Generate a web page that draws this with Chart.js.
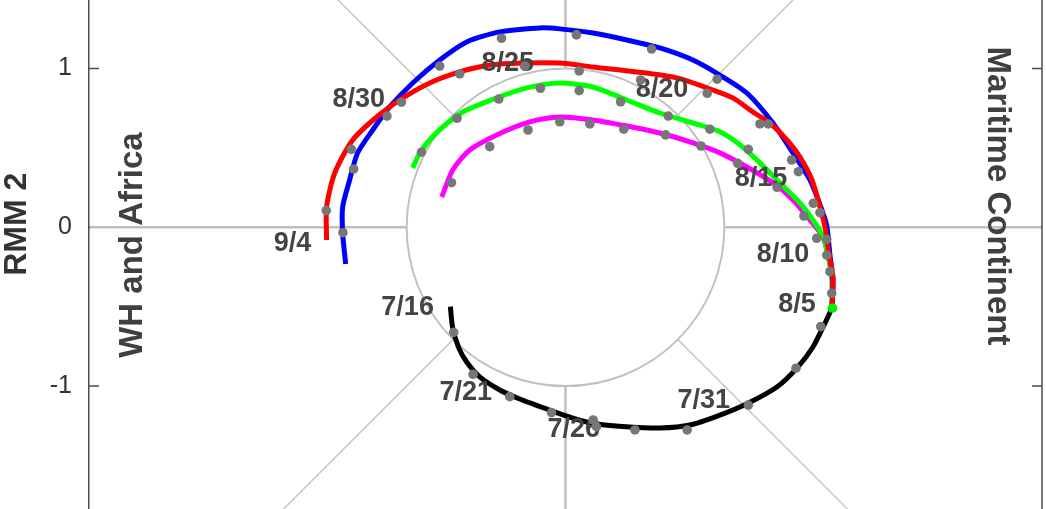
<!DOCTYPE html>
<html>
<head>
<meta charset="utf-8">
<title>RMM phase diagram</title>
<script src="https://cdn.jsdelivr.net/npm/chart.js@4.4.0/dist/chart.umd.min.js"></script>
<style>
  html, body { margin: 0; padding: 0; background: #fff; overflow: hidden; }
  #wrap { width: 1046px; height: 509px; }
</style>
</head>
<body>
<div id="wrap"><canvas id="mjo" width="1046" height="509"></canvas></div>
<script>
// ---- data: [RMM1, RMM2] pairs ----
const xMin = -3, xMax = 3;
const yMin = -1.775, yMax = 1.432;
const yTicks = [-1, 0, 1];

// observed 7/16 -> 8/5
const obsPath = [[-0.725,-0.500],[-0.710,-0.635],[-0.672,-0.760],[-0.622,-0.849],[-0.540,-0.943],[-0.414,-1.025],
  [-0.288,-1.082],[-0.118,-1.145],[0.046,-1.202],[0.197,-1.240],[0.405,-1.259],[0.594,-1.265],[0.783,-1.246],
  [0.972,-1.183],[1.149,-1.108],[1.331,-1.006],[1.457,-0.887],[1.558,-0.754],[1.634,-0.603],[1.678,-0.508]];
const obsDots = [[-0.704,-0.662],[-0.582,-0.926],[-0.351,-1.067],[-0.088,-1.168],[0.174,-1.214],[0.195,-1.256],
  [0.437,-1.277],[0.766,-1.277],[1.151,-1.120],[1.451,-0.888],[1.607,-0.626]];
const startDot = [[1.680,-0.510]];

// four tracks from 8/5 on
const redPath = [[1.678,-0.509],[1.684,-0.313],[1.659,-0.174],[1.634,0.002],[1.602,0.128],[1.552,0.298],[1.476,0.443],
  [1.394,0.550],[1.287,0.657],[1.180,0.726],[1.054,0.815],[0.928,0.865],[0.701,0.941],[0.449,0.979],[0.172,1.010],
  [-0.036,1.035],[-0.269,1.035],[-0.477,1.022],[-0.666,0.979],[-0.855,0.909],[-1.044,0.802],[-1.189,0.695],
  [-1.340,0.550],[-1.453,0.342],[-1.504,0.128],[-1.504,-0.080]];
const redDots = [[1.676,-0.416],[1.602,0.092],[1.466,0.350],[1.224,0.651],[0.892,0.844],[0.473,0.928],[0.086,0.985],
  [-0.256,1.016],[-0.666,0.966],[-1.033,0.788],[-1.348,0.491],[-1.506,0.105]];

const bluePath = [[1.678,-0.509],[1.684,-0.332],[1.665,-0.175],[1.646,0.002],[1.621,0.090],[1.539,0.298],[1.432,0.468],
  [1.306,0.657],[1.142,0.846],[0.972,0.959],[0.802,1.054],[0.594,1.130],[0.386,1.180],[0.172,1.224],[-0.036,1.250],
  [-0.162,1.256],[-0.414,1.231],[-0.622,1.168],[-0.792,1.054],[-0.962,0.909],[-1.107,0.758],[-1.214,0.613],
  [-1.309,0.468],[-1.359,0.298],[-1.403,0.128],[-1.403,-0.036],[-1.384,-0.231]];
const blueDots = [[1.665,-0.280],[1.645,-0.076],[1.560,0.151],[1.424,0.424],[1.277,0.651],[0.955,0.933],[0.542,1.123],
  [0.069,1.212],[-0.403,1.191],[-0.792,1.016],[-1.124,0.701],[-1.334,0.367],[-1.401,-0.034]];

const greenPath = [[1.678,-0.509],[1.678,-0.332],[1.653,-0.175],[1.621,-0.061],[1.558,0.046],[1.476,0.154],[1.350,0.280],
  [1.224,0.406],[1.098,0.520],[0.972,0.602],[0.802,0.657],[0.594,0.720],[0.386,0.802],[0.172,0.884],[-0.036,0.909],
  [-0.244,0.878],[-0.433,0.815],[-0.647,0.726],[-0.773,0.632],[-0.855,0.550],[-0.918,0.468],[-0.962,0.374]];
const greenDots = [[1.645,-0.175],[1.332,0.252],[1.151,0.491],[0.909,0.618],[0.647,0.701],[0.347,0.791],[0.086,0.861],
  [-0.158,0.876],[-0.420,0.808],[-0.683,0.687],[-0.907,0.473]];

const magentaPath = [[1.678,-0.509],[1.678,-0.332],[1.653,-0.175],[1.621,-0.061],[1.539,0.046],[1.432,0.172],[1.306,0.280],
  [1.142,0.380],[0.972,0.469],[0.802,0.532],[0.594,0.594],[0.386,0.638],[0.172,0.676],[-0.036,0.695],[-0.225,0.664],
  [-0.433,0.582],[-0.603,0.487],[-0.710,0.361],[-0.779,0.191]];
const magentaDots = [[1.582,-0.069],[1.501,0.071],[1.084,0.403],[0.853,0.512],[0.630,0.582],[0.367,0.618],[0.153,0.651],
  [-0.036,0.665],[-0.236,0.613],[-0.477,0.508],[-0.718,0.281]];

// date labels
const dateLabels = ['7/16','7/21','7/26','7/31','8/5','8/10','8/15','8/20','8/25','8/30','9/4'];
const dateLabelX = [-0.994,-0.628,0.052,0.871,1.457,1.369,1.231,0.607,-0.364,-1.302,-1.719];
const dateLabelY = [-0.502,-1.038,-1.265,-1.088,-0.483,-0.168,0.311,0.871,1.035,0.814,-0.099];

// region names, anchored at [RMM1, RMM2]
const westLabel = 'WH and Africa', westPos = [-2.664, -0.112];
const eastLabel = 'Maritime Continent', eastPos = [2.662, 0.197];
const yTitle = 'RMM 2';

const FONT = "'Liberation Sans', Arial, Helvetica, sans-serif";
const pts = arr => arr.map(p => ({ x: p[0], y: p[1] }));

function track(data, color, order) {
  return { data: pts(data), showLine: true, borderColor: color, borderWidth: 5, pointRadius: 0,
           tension: 0.25, borderJoinStyle: 'round', order };
}
function dots(data, color) {
  return { data: pts(data), showLine: false, pointRadius: 4.8, pointBackgroundColor: color,
           pointBorderWidth: 0, order: 0, isDots: true };
}

let labelsDone = false;
const mjoFrame = {
  id: 'mjoFrame',
  beforeDraw() { labelsDone = false; },
  beforeDatasetsDraw(chart) {
    const { ctx, chartArea: a, scales: { x, y } } = chart;
    const cx = x.getPixelForValue(0), cy = y.getPixelForValue(0);
    const r = x.getPixelForValue(1) - cx;
    ctx.save();
    // box: right edge and inward ticks
    ctx.strokeStyle = '#4d4d4d';
    ctx.lineWidth = 1.5;
    ctx.beginPath();
    ctx.moveTo(a.right, a.top); ctx.lineTo(a.right, a.bottom);
    yTicks.forEach(v => {
      const py = y.getPixelForValue(v);
      ctx.moveTo(a.left, py); ctx.lineTo(a.left + 10, py);
      ctx.moveTo(a.right - 10, py); ctx.lineTo(a.right, py);
    });
    ctx.stroke();

    ctx.beginPath(); ctx.rect(a.left, a.top, a.width, a.height); ctx.clip();
    // phase lines
    ctx.strokeStyle = '#c0c0c0';
    ctx.lineWidth = 2.5;
    ctx.beginPath();
    ctx.moveTo(a.left + 1, cy); ctx.lineTo(cx - r, cy);
    ctx.moveTo(cx + r, cy); ctx.lineTo(a.right - 1, cy);
    ctx.moveTo(cx, a.top); ctx.lineTo(cx, cy - r);
    ctx.moveTo(cx, cy + r); ctx.lineTo(cx, a.bottom);
    ctx.stroke();
    ctx.lineWidth = 1.3;
    ctx.beginPath();
    [[1, 1], [1, -1], [-1, 1], [-1, -1]].forEach(([sx, sy]) => {
      ctx.moveTo(x.getPixelForValue(sx * Math.SQRT1_2), y.getPixelForValue(sy * Math.SQRT1_2));
      ctx.lineTo(x.getPixelForValue(sx * 5), y.getPixelForValue(sy * 5));
    });
    ctx.stroke();
    // unit circle
    ctx.lineWidth = 2;
    ctx.beginPath();
    ctx.arc(cx, cy, r, 0, Math.PI * 2);
    ctx.stroke();
    ctx.restore();
  },
  beforeDatasetDraw(chart, args) {
    if (labelsDone || !args.meta._dataset.isDots) return;
    labelsDone = true;
    const { ctx, scales: { x, y } } = chart;
    ctx.save();
    ctx.fillStyle = '#444';
    ctx.font = 'bold 27px ' + FONT;
    ctx.textAlign = 'center';
    ctx.textBaseline = 'middle';
    dateLabels.forEach((t, i) => {
      ctx.fillText(t, x.getPixelForValue(dateLabelX[i]), y.getPixelForValue(dateLabelY[i]) + 1);
    });
    ctx.restore();
  },
  afterDraw(chart) {
    const { ctx, scales: { x, y } } = chart;
    ctx.save();
    ctx.fillStyle = '#404040';
    ctx.textAlign = 'center';
    ctx.textBaseline = 'alphabetic';
    // west side, reads bottom to top
    ctx.font = 'bold 33px ' + FONT;
    ctx.save();
    ctx.translate(x.getPixelForValue(westPos[0]), y.getPixelForValue(westPos[1]));
    ctx.rotate(-Math.PI / 2);
    ctx.fillText(westLabel, 0, 0);
    ctx.restore();
    // east side, reads top to bottom
    ctx.font = 'bold 33px ' + FONT;
    ctx.save();
    ctx.translate(x.getPixelForValue(eastPos[0]), y.getPixelForValue(eastPos[1]));
    ctx.rotate(Math.PI / 2);
    ctx.fillText(eastLabel, 0, 0);
    ctx.restore();
    // y axis title
    ctx.fillStyle = '#333';
    ctx.font = 'bold 32px ' + FONT;
    ctx.translate(25.5, y.getPixelForValue(0) - 3);
    ctx.rotate(-Math.PI / 2);
    ctx.fillText(yTitle, 0, 0);
    ctx.restore();
  }
};

new Chart(document.getElementById('mjo'), {
  type: 'scatter',
  data: {
    datasets: [
      dots(redDots, '#777777'),
      dots(blueDots, '#777777'),
      dots(greenDots, '#777777'),
      dots(magentaDots, '#777777'),
      dots(obsDots, '#777777'),
      Object.assign(dots(startDot, '#00ee00'), { order: -1 }),
      track(redPath, '#ff0000', 1),
      track(bluePath, '#0000ff', 2),
      track(greenPath, '#00ff00', 3),
      track(magentaPath, '#ff00ff', 4),
      track(obsPath, '#000000', 5)
    ]
  },
  options: {
    responsive: false,
    devicePixelRatio: 1,
    animation: false,
    layout: { autoPadding: false, padding: { left: 0, right: 4, top: 0, bottom: 0 } },
    plugins: { legend: { display: false }, tooltip: { enabled: false } },
    scales: {
      x: { type: 'linear', min: xMin, max: xMax, display: false },
      y: {
        type: 'linear', min: yMin, max: yMax,
        afterBuildTicks: s => { s.ticks = yTicks.map(v => ({ value: v })); },
        afterFit: s => { s.width = 89; s.paddingTop = 0; s.paddingBottom = 0; },
        grid: { display: false, drawTicks: false },
        border: { display: true, color: '#4d4d4d', width: 1.5 },
        ticks: { padding: 17, color: '#333', font: { family: FONT, size: 25 }, callback: v => String(v) }
      }
    }
  },
  plugins: [mjoFrame]
});
</script>
</body>
</html>
